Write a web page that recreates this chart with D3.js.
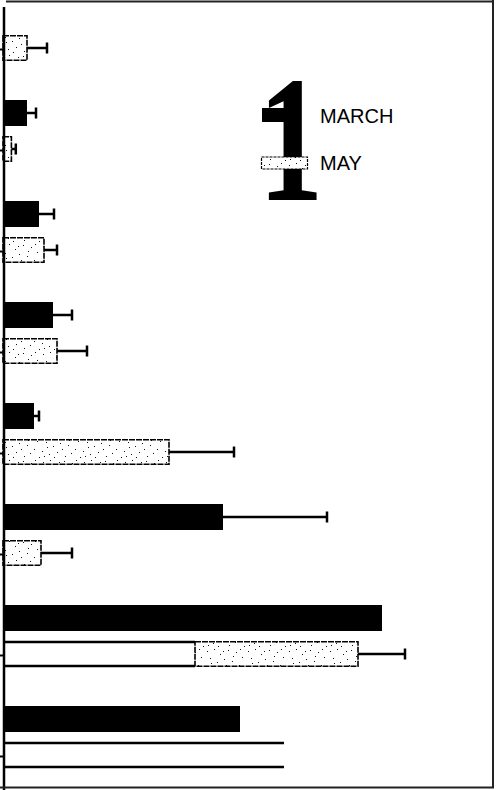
<!DOCTYPE html>
<html>
<head>
<meta charset="utf-8">
<script src="https://d3js.org/d3.v7.min.js"></script>
<style>
  body { margin: 0; background: #fff; }
  svg { display: block; }
</style>
</head>
<body>
<script>
// groups top to bottom, no labels in the figure
var groups = ["1", "2", "3", "4", "5", "6", "7", "8"];
var series = ["MARCH", "MAY"];

var marchValues = [0, 6, 9, 12.5, 7.75, 55, 94.75, 59.25];
var marchErrors = [0, 2.25, 3.75, 4.75, 1.25, 26, 0, 0];
var mayValues   = [6, 2.1, 10.25, 13.5, 41.5, 9.5, 88.75, 70.25];
var mayErrors   = [5, 1.1, 3.25, 7.5, 16.25, 7.75, 11.75, 0];
// where the stippled fill starts (open outline before it)
var mayStippleFrom = [0, 0, 0, 0, 0, 0, 48, 70.25];

var w = 497, h = 790;

var svg = d3.select("body").append("svg").attr("width", w).attr("height", h);

// stipple pattern, irregular dots in a larger tile
var defs = svg.append("defs");
var pat = defs.append("pattern")
  .attr("id", "stipple")
  .attr("patternUnits", "userSpaceOnUse")
  .attr("width", 41).attr("height", 27);
pat.append("rect").attr("width", 41).attr("height", 27).attr("fill", "#fff");
var dots = [[2,3],[9,1],[15,6],[23,2],[31,4],[37,9],[5,10],[12,14],[19,11],[27,13],
            [34,17],[1,19],[8,22],[16,20],[24,24],[30,21],[39,25],[21,17],[6,15],[35,1],
            [13,25],[28,8],[3,24],[18,3]];
pat.selectAll("rect.d").data(dots).enter().append("rect")
  .attr("class", "d")
  .attr("x", function(d){ return d[0]; })
  .attr("y", function(d){ return d[1]; })
  .attr("width", 1).attr("height", 1)
  .attr("fill", "#111");

var yScale = d3.scaleBand().domain(groups).range([-1, -1 + 101 * groups.length]);
var ySub = d3.scaleBand().domain(series).range([0, 62]).paddingInner(0.278);
var xScale = d3.scaleLinear().domain([0, 120]).range([3, 483]);

var rows = groups.map(function(g, i){
  return { g: g, march: marchValues[i], marchErr: marchErrors[i],
           may: mayValues[i], mayErr: mayErrors[i], from: mayStippleFrom[i] };
});

// MARCH bars
svg.selectAll("rect.march")
  .data(rows).enter().append("rect")
  .attr("class", "march")
  .attr("x", xScale(0))
  .attr("y", function(d){ return yScale(d.g) + ySub("MARCH"); })
  .attr("width", function(d){ return xScale(d.march) - xScale(0); })
  .attr("height", ySub.bandwidth())
  .attr("fill", "#000");

// MAY bars: stippled part
svg.selectAll("rect.may")
  .data(rows.filter(function(d){ return d.from < d.may; })).enter().append("rect")
  .attr("class", "may")
  .attr("x", function(d){ return xScale(d.from); })
  .attr("y", function(d){ return yScale(d.g) + ySub("MAY") + 0.75; })
  .attr("width", function(d){ return xScale(d.may) - xScale(d.from); })
  .attr("height", ySub.bandwidth() - 1.5)
  .attr("fill", "url(#stipple)")
  .attr("stroke", "#000")
  .attr("stroke-width", 1.6)
  .attr("stroke-dasharray", "6,1");

// MAY bars: open outline part
var open = rows.filter(function(d){ return d.from > 0; });
["top", "bottom"].forEach(function(side){
  svg.selectAll("line.open-" + side)
    .data(open).enter().append("line")
    .attr("x1", xScale(0))
    .attr("x2", function(d){ return xScale(d.from); })
    .attr("y1", function(d){ return yScale(d.g) + ySub("MAY") + (side === "top" ? 1 : ySub.bandwidth() - 1); })
    .attr("y2", function(d){ return yScale(d.g) + ySub("MAY") + (side === "top" ? 1 : ySub.bandwidth() - 1); })
    .attr("stroke", "#000")
    .attr("stroke-width", 2.5);
});

// error bars
function errorBars(key, valKey, errKey){
  var data = rows.filter(function(d){ return d[errKey] > 0; });
  var cy = function(d){ return yScale(d.g) + ySub(key) + ySub.bandwidth() / 2; };
  svg.selectAll("line.err-" + key).data(data).enter().append("line")
    .attr("x1", function(d){ return xScale(d[valKey]); })
    .attr("x2", function(d){ return xScale(d[valKey] + d[errKey]); })
    .attr("y1", cy).attr("y2", cy)
    .attr("stroke", "#000").attr("stroke-width", 2.5);
  svg.selectAll("line.cap-" + key).data(data).enter().append("line")
    .attr("x1", function(d){ return xScale(d[valKey] + d[errKey]); })
    .attr("x2", function(d){ return xScale(d[valKey] + d[errKey]); })
    .attr("y1", function(d){ return cy(d) - 5.5; })
    .attr("y2", function(d){ return cy(d) + 5.5; })
    .attr("stroke", "#000").attr("stroke-width", 2.5);
}
errorBars("MARCH", "march", "marchErr");
errorBars("MAY", "may", "mayErr");

// left axis
var axis = svg.append("g")
  .attr("transform", "translate(4,0)")
  .call(d3.axisLeft(yScale).tickSize(4).tickSizeOuter(0).tickFormat(""));
axis.select(".domain").attr("d", "M0,7V790").attr("stroke-width", 2.5);
axis.selectAll(".tick line").attr("stroke-width", 2);

// frame
svg.append("line").attr("x1", 6).attr("x2", 494).attr("y1", 1.5).attr("y2", 1.5)
  .attr("stroke", "#222").attr("stroke-width", 2);
svg.append("line").attr("x1", 493).attr("x2", 493).attr("y1", 0).attr("y2", 788)
  .attr("stroke", "#222").attr("stroke-width", 2);
svg.append("line").attr("x1", 0).attr("x2", 494).attr("y1", 787.5).attr("y2", 787.5)
  .attr("stroke", "#222").attr("stroke-width", 2);

// legend (with the big "1" behind it)
svg.append("text")
  .attr("transform", "translate(291,200) scale(0.72,1)")
  .attr("text-anchor", "middle")
  .attr("font-family", "Liberation Serif, Times New Roman, serif")
  .attr("font-weight", "bold")
  .attr("font-size", 180)
  .attr("fill", "#000")
  .text("1");

var legend = svg.append("g");
legend.append("rect").attr("x", 262).attr("y", 108).attr("width", 35).attr("height", 14)
  .attr("fill", "#000");
legend.append("rect").attr("x", 261.5).attr("y", 157).attr("width", 46).attr("height", 12)
  .attr("fill", "url(#stipple)").attr("stroke", "#000").attr("stroke-width", 1.2)
  .attr("stroke-dasharray", "3,1");
legend.selectAll("text.lab").data(series).enter().append("text")
  .attr("class", "lab")
  .attr("x", 320)
  .attr("y", function(d, i){ return i === 0 ? 123 : 170; })
  .attr("font-family", "Liberation Sans, Arial, sans-serif")
  .attr("font-size", 20)
  .attr("fill", "#000")
  .text(function(d){ return d; });
</script>
</body>
</html>
